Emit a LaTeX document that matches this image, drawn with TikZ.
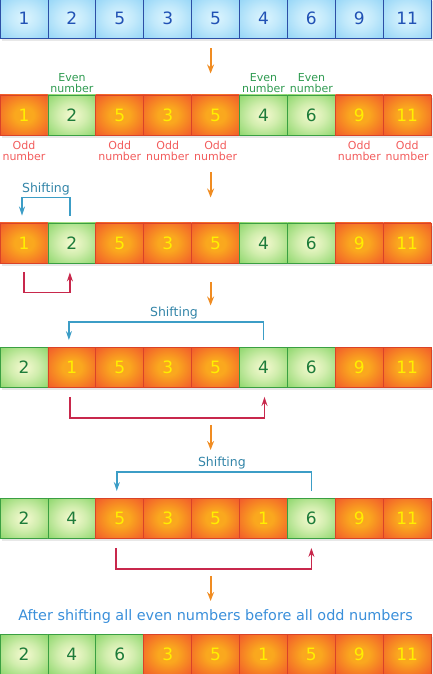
\documentclass[tikz,border=0pt]{standalone}
\usepackage{fontspec}
\setmainfont{DejaVu Sans}
\usetikzlibrary{arrows.meta, calc, shadows, positioning}

\definecolor{bluein}{HTML}{DDF5FE}
\definecolor{blueout}{HTML}{84CEF5}
\definecolor{blueedge}{HTML}{2C4FA6}
\definecolor{bluetext}{HTML}{2152B5}
\definecolor{greenin}{HTML}{F7FAD2}
\definecolor{greenout}{HTML}{78D058}
\definecolor{greenedge}{HTML}{3A9F42}
\definecolor{greentext}{HTML}{1E7C3A}
\definecolor{orangein}{HTML}{FAA81E}
\definecolor{orangeout}{HTML}{F1522D}
\definecolor{orangeedge}{HTML}{D94328}
\definecolor{oddtext}{HTML}{FFEF00}
\definecolor{steporange}{HTML}{F08C22}
\definecolor{shiftblue}{HTML}{3C9DC6}
\definecolor{movered}{HTML}{C8284C}
\definecolor{evenlabel}{HTML}{2E9A50}
\definecolor{oddlabel}{HTML}{F25C5C}
\definecolor{resultblue}{HTML}{3A8FDA}

\pgfdeclareradialshading{blueglow}{\pgfpoint{0bp}{0bp}}{color(0bp)=(bluein); color(15bp)=(bluein!70!blueout); color(42bp)=(blueout); color(80bp)=(blueout)}
\pgfdeclareradialshading{greenglow}{\pgfpoint{0bp}{0bp}}{color(0bp)=(greenin); color(15bp)=(greenin!70!greenout); color(42bp)=(greenout); color(80bp)=(greenout)}
\pgfdeclareradialshading{orangeglow}{\pgfpoint{0bp}{0bp}}{color(0bp)=(orangein); color(10bp)=(orangein); color(38bp)=(orangeout); color(80bp)=(orangeout)}

\tikzset{
  cell/.style={draw, line width=0.9pt, minimum width=47.9pt, minimum height=40pt, inner sep=0pt,
    font=\fontsize{17}{17}\selectfont, drop shadow={shadow xshift=1.5pt, shadow yshift=-3pt, opacity=0.18}},
  bluecell/.style={cell, draw=blueedge, shading=blueglow, text=bluetext},
  evencell/.style={cell, draw=greenedge, shading=greenglow, text=greentext},
  oddcell/.style={cell, draw=orangeedge, shading=orangeglow, text=oddtext},
  evenlabel/.style={text=evenlabel, align=center, inner sep=1pt, font=\fontsize{11}{10.5}\selectfont},
  oddlabel/.style={text=oddlabel, align=center, inner sep=1pt, font=\fontsize{11}{10.5}\selectfont},
  steparrow/.style={draw=steporange, line width=2pt, -{Stealth[length=9pt, width=7pt, inset=3pt]}},
  shiftline/.style={draw=shiftblue, line width=1.8pt, -{Stealth[length=9pt, width=6pt, inset=3pt]}},
  moveline/.style={draw=movered, line width=1.8pt, -{Stealth[length=9pt, width=6pt, inset=3pt]}},
  shiftlabel/.style={text=shiftblue!85!black, inner sep=2pt, font=\fontsize{12.5}{12.5}\selectfont},
}

\begin{document}
\begin{tikzpicture}[x=1pt, y=1pt]
  \useasboundingbox (0,0) rectangle (432,674);

  % input array
  \foreach \v [count=\colno from 0] in {1,2,5,3,5,4,6,9,11}
    \node[bluecell] (r0c\colno) at (24+47.9*\colno, 656) {\v};

  % marking even and odd
  \foreach \v/\s [count=\colno from 0] in {1/oddcell,2/evencell,5/oddcell,3/oddcell,5/oddcell,4/evencell,6/evencell,9/oddcell,11/oddcell}
    \node[\s] (r1c\colno) at (24+47.9*\colno, 559) {\v};
  \foreach \colno in {1,5,6}
    \node[evenlabel, above=1pt of r1c\colno] (even\colno) {Even\\number};
  \foreach \colno in {0,2,3,4,7,8}
    \node[oddlabel, below=5pt of r1c\colno] (odd\colno) {Odd\\number};

  % first shift
  \foreach \v/\s [count=\colno from 0] in {1/oddcell,2/evencell,5/oddcell,3/oddcell,5/oddcell,4/evencell,6/evencell,9/oddcell,11/oddcell}
    \node[\s] (r2c\colno) at (24+47.9*\colno, 431) {\v};

  % second shift
  \foreach \v/\s [count=\colno from 0] in {2/evencell,1/oddcell,5/oddcell,3/oddcell,5/oddcell,4/evencell,6/evencell,9/oddcell,11/oddcell}
    \node[\s] (r3c\colno) at (24+47.9*\colno, 306.5) {\v};

  % third shift
  \foreach \v/\s [count=\colno from 0] in {2/evencell,4/evencell,5/oddcell,3/oddcell,5/oddcell,1/oddcell,6/evencell,9/oddcell,11/oddcell}
    \node[\s] (r4c\colno) at (24+47.9*\colno, 155.5) {\v};

  % result
  \foreach \v/\s [count=\colno from 0] in {2/evencell,4/evencell,6/evencell,3/oddcell,5/oddcell,1/oddcell,5/oddcell,9/oddcell,11/oddcell}
    \node[\s] (r5c\colno) at (24+47.9*\colno, 19.5) {\v};
  \node[text=resultblue, font=\fontsize{14.4}{14.4}\selectfont, above=7pt of r5c4] (result) {After shifting all even numbers before all odd numbers};

  % steps down
  \draw[steparrow] ([xshift=-5pt, yshift=-10pt]r0c4.south) -- ++(0,-25);
  \draw[steparrow] ([xshift=-5pt, yshift=-37pt]r1c4.south) -- ++(0,-25);
  \draw[steparrow] ([xshift=-5pt, yshift=-19pt]r2c4.south) -- ++(0,-23);
  \draw[steparrow] ([xshift=-5pt, yshift=-37pt]r3c4.south) -- ++(0,-25);
  \draw[steparrow] ([xshift=-5pt, yshift=-37pt]r4c4.south) -- ++(0,-25);

  % shifting brackets
  \draw[shiftline] ([xshift=-2pt, yshift=7pt]r2c1.north) -- ++(0,18) -| node[shiftlabel, pos=0.25, above] (shift1) {Shifting} ([xshift=-2pt, yshift=7pt]r2c0.north);
  \draw[shiftline] ([yshift=7pt]r3c5.north) -- ++(0,18) -| node[shiftlabel, pos=0.23, above] (shift2) {Shifting} ([xshift=-3pt, yshift=7pt]r3c1.north);
  \draw[shiftline] ([yshift=7pt]r4c6.north) -- ++(0,19) -| node[shiftlabel, pos=0.23, above] (shift3) {Shifting} ([xshift=-3pt, yshift=7pt]r4c2.north);

  % moving the odd number
  \draw[moveline] ([yshift=-9pt]r2c0.south) -- ++(0,-20) -| ([xshift=-2pt, yshift=-9pt]r2c1.south);
  \draw[moveline] ([xshift=-2pt, yshift=-9pt]r3c1.south) -- ++(0,-21) -| ([xshift=1pt, yshift=-9pt]r3c5.south);
  \draw[moveline] ([xshift=-4pt, yshift=-9pt]r4c2.south) -- ++(0,-21) -| ([yshift=-9pt]r4c6.south);
\end{tikzpicture}
\end{document}
